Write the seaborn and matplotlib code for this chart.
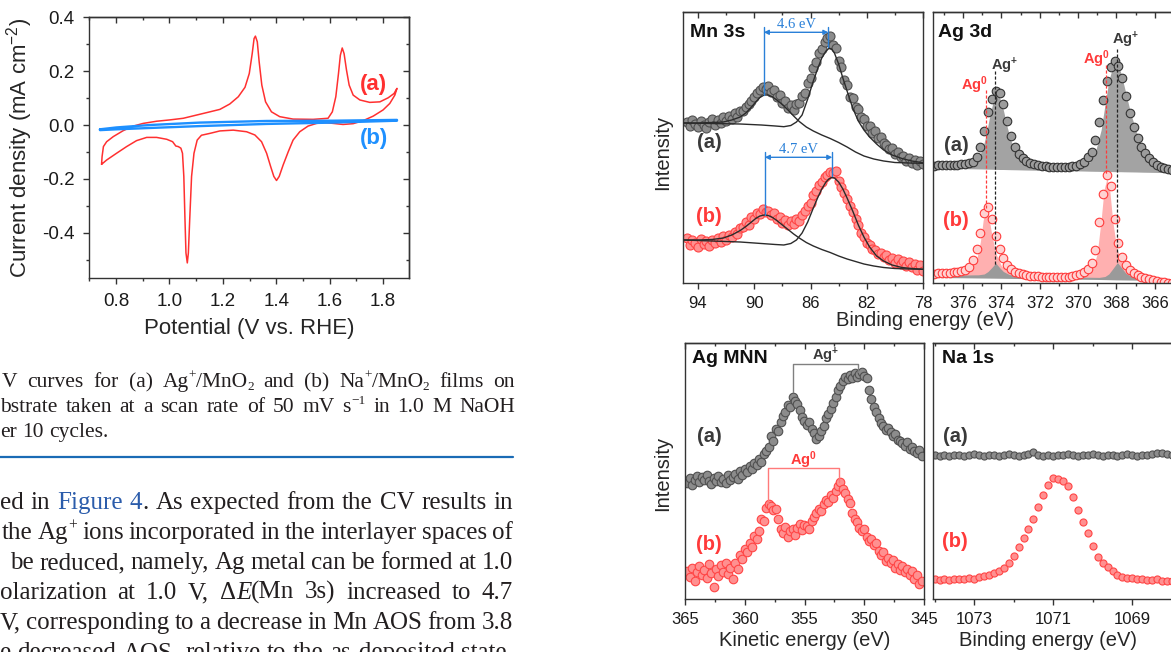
import re

import numpy as np
import matplotlib
matplotlib.use("Agg")
import matplotlib.pyplot as plt
import seaborn as sns
from matplotlib.lines import Line2D
from matplotlib.ticker import MultipleLocator, FormatStrFormatter

# ---------------- values ----------------
# CV loops: potential (V vs RHE), current density (mA cm-2)
cv_a_v = [0.746, 0.748, 0.753, 0.765, 0.790, 0.827, 0.865, 0.902, 0.952, 1.002,
          1.052, 1.102, 1.152, 1.189, 1.226, 1.258, 1.283, 1.299, 1.310, 1.317,
          1.322, 1.329, 1.336, 1.346, 1.360, 1.382, 1.413, 1.463, 1.538, 1.594,
          1.610, 1.623, 1.633, 1.640, 1.647, 1.654, 1.663, 1.673, 1.688, 1.713,
          1.750, 1.788, 1.819, 1.841, 1.852,
          1.844, 1.825, 1.800, 1.763, 1.725, 1.688, 1.650, 1.613, 1.582, 1.551,
          1.519, 1.488, 1.463, 1.445, 1.426, 1.411, 1.401, 1.391, 1.379, 1.364,
          1.345, 1.320, 1.289, 1.239, 1.189, 1.152, 1.120, 1.104, 1.092, 1.083,
          1.076, 1.071, 1.067, 1.062, 1.058, 1.054, 1.049, 1.043, 1.033, 1.024,
          1.012, 0.990, 0.952, 0.915, 0.877, 0.840, 0.802, 0.765, 0.746]
cv_a_j = [-0.146, -0.117, -0.080, -0.062, -0.043, -0.021, -0.004, 0.006, 0.014, 0.019,
          0.025, 0.037, 0.049, 0.058, 0.078, 0.105, 0.140, 0.191, 0.265, 0.321,
          0.330, 0.309, 0.235, 0.148, 0.086, 0.049, 0.031, 0.022, 0.021, 0.025,
          0.049, 0.105, 0.191, 0.259, 0.286, 0.265, 0.204, 0.148, 0.111, 0.093,
          0.084, 0.086, 0.101, 0.117, 0.136,
          0.111, 0.080, 0.056, 0.033, 0.016, 0.005, 0.002, 0.006, 0.009, 0.006,
          -0.004, -0.025, -0.056, -0.099, -0.148, -0.191, -0.206, -0.191, -0.154, -0.105,
          -0.062, -0.037, -0.025, -0.019, -0.022, -0.031, -0.038, -0.056, -0.105, -0.191,
          -0.352, -0.475, -0.512, -0.475, -0.340, -0.191, -0.105, -0.086, -0.080, -0.078,
          -0.062, -0.053, -0.046, -0.046, -0.058, -0.080, -0.105, -0.130, -0.146]
cv_b_v = [0.740, 0.802, 0.927, 1.114, 1.364, 1.613, 1.852,
          1.852, 1.613, 1.364, 1.114, 0.927, 0.802, 0.740, 0.740]
cv_b_j = [-0.016, -0.009, 0.000, 0.009, 0.015, 0.016, 0.019,
          0.016, 0.009, 0.004, -0.004, -0.011, -0.016, -0.019, -0.016]

# XPS / Auger spectra, intensity in arbitrary units
mn_be = np.arange(94.8, 77.9, -0.2)
mn_a = [161, 157, 163, 159, 156, 162, 158, 155, 161, 164,
        158, 163, 160, 166, 162, 167, 164, 170, 166, 172,
        172, 176, 179, 182, 186, 190, 193, 196, 194, 197,
        191, 193, 186, 188, 180, 182, 175, 178, 173, 179,
        180, 187, 190, 200, 205, 215, 221, 230, 234, 241,
        245, 247, 238, 235, 222, 216, 203, 198, 186, 185,
        176, 174, 166, 164, 157, 157, 150, 152, 145, 146,
        140, 138, 134, 135, 129, 131, 126, 127, 122, 125,
        120, 123, 118, 122, 119]
mn_b = [45, 38, 43, 40, 36, 44, 39, 42, 37, 43,
        40, 45, 41, 47, 43, 48, 46, 51, 49, 55,
        56, 61, 58, 66, 64, 70, 69, 74, 71, 72,
        68, 70, 64, 66, 60, 63, 58, 62, 59, 64,
        62, 68, 72, 77, 80, 88, 92, 98, 101, 106,
        108, 111, 110, 112, 102, 96, 90, 84, 77, 71,
        64, 58, 50, 46, 40, 38, 34, 33, 29, 30,
        26, 28, 23, 25, 20, 24, 19, 22, 17, 21,
        16, 19, 13, 18, 12]
mn_fit1_be = [95.0, 94.0, 93.0, 92.2, 91.6, 91.0, 90.6, 90.2, 89.9, 89.6,
              89.3, 89.0, 88.7, 88.4, 88.0, 87.6, 87.2, 86.8, 86.3, 85.8,
              85.2, 84.6, 84.0, 83.4, 82.8, 82.2, 81.5, 80.8, 80.0, 79.0, 78.0]
mn_fit1_a = [160, 160, 160.5, 161, 163, 166, 170, 176, 181, 185.5,
             188, 188, 186, 183, 178.5, 173, 167, 161.5, 156, 152,
             148, 144.5, 140.5, 136, 131, 127, 124, 122, 120.5, 120, 119.7]
mn_fit1_b = [43, 43, 43.5, 45, 48, 52.5, 56.5, 61, 64.5, 67,
             68, 67.5, 65.5, 62.5, 58, 53.5, 49, 45, 40.5, 37,
             33.5, 30.5, 27, 24, 21.5, 19, 17, 15.5, 14.5, 14, 13.7]
mn_fit2_be = [95.0, 93.0, 91.0, 89.5, 88.5, 87.9, 87.4, 87.0, 86.6, 86.2,
              85.8, 85.5, 85.2, 84.9, 84.7, 84.5, 84.3, 84.0, 83.7, 83.4,
              83.0, 82.6, 82.2, 81.8, 81.3, 80.8, 80.2, 79.5, 78.8, 78.0]
mn_fit2_a = [160, 159.5, 159, 158, 157, 156.3, 157.5, 161, 168, 184,
             202, 214, 225, 232, 234.5, 234, 230, 219, 205, 192,
             175, 162, 153, 146, 139, 133, 128, 124.5, 122, 120.3]
mn_fit2_b = [43, 42, 41, 39.5, 38.5, 38, 39.5, 43, 50, 61,
             75, 85, 94, 101, 104, 105.5, 105, 101, 94, 85,
             72, 58, 46, 36, 27, 22, 18, 15.5, 14.5, 13.7]
mn_split_a = [89.32, 84.73]
mn_split_b = [89.25, 84.45]

ag_be = np.arange(377.5, 365.0, -0.2)
ag_a = [114.5, 115, 114.6, 114.8, 115, 115.2, 115.5, 115.8, 116.2, 116.8,
        118.5, 123, 133, 149, 168, 181.5, 189, 187, 176, 159,
        144, 133, 126.5, 122.5, 119.5, 117.5, 116, 115, 114.3, 113.8,
        113.5, 113.3, 113.2, 113.2, 113.3, 113.5, 113.8, 114.5, 116, 118.5,
        123, 128, 140, 158, 180, 199, 213, 219, 214, 202,
        184, 167.5, 153, 142, 133, 127, 122, 118, 115, 113,
        111.8, 110.8, 110.2]
ag_b = [6.5, 7, 7.2, 7, 7.5, 7.8, 8.4, 9.3, 10.5, 13,
        20, 31, 47, 67, 73.5, 61, 44, 31.5, 22, 15.5,
        11, 8.5, 6.8, 5.8, 5, 4.4, 4, 3.7, 3.5, 3.2,
        3, 2.9, 2.8, 2.8, 3, 3.3, 3.8, 4.6, 5.8, 7.8,
        11.5, 17.5, 30, 58, 86, 105, 94, 61, 37, 23,
        15.5, 10.5, 7.5, 5.2, 3.5, 2, 0.8, 0, -0.8, -1.5,
        -2.2, -2.8, -3.3]
# fitted components (Ag+ grey, Ag0 pink)
agf_a_be = [377.6, 376.0, 375.6, 375.3, 375.0, 374.8, 374.6, 374.4, 374.25, 374.1,
            373.9, 373.7, 373.5, 373.2, 372.8, 372.0, 370.5, 369.8, 369.4, 369.1,
            368.8, 368.6, 368.4, 368.2, 368.0, 367.8, 367.6, 367.3, 367.0, 366.6,
            366.0, 365.0]
agf_a_top = [113.5, 114, 115.5, 119, 130, 145, 165, 181, 186, 183,
             170, 153, 139, 126, 118, 114, 112.5, 114, 118, 128,
             150, 175, 199, 213, 216, 209, 194, 170, 150, 131,
             117, 110]
agf_a_bot = [112, 111.4, 111.2, 111.1, 111, 110.9, 110.8, 110.7, 110.6, 110.5,
             110.5, 110.4, 110.3, 110.2, 110, 109.7, 109.2, 109, 108.8, 108.7,
             108.6, 108.5, 108.5, 108.4, 108.3, 108.3, 108.2, 108.1, 108, 107.8,
             107.6, 107.2]
agf_b0_be = [377.6, 376.0, 375.6, 375.3, 375.1, 374.95, 374.8, 374.65, 374.5, 374.3,
             374.0, 373.6, 373.0, 371.5, 370.0, 369.5, 369.2, 369.0, 368.8, 368.65,
             368.5, 368.35, 368.2, 368.0, 367.7, 367.3, 366.8, 366.0, 365.0]
agf_b0_top = [6, 7.5, 11, 20, 38, 60, 70.5, 62, 45, 27,
              14, 8.5, 6, 4, 4, 6.5, 13, 27, 60, 90,
              101.5, 90, 60, 33, 16, 8.5, 4.5, 2.5, 1]
agf_b0_bot = [5, 4.4, 4.3, 4.2, 4.1, 4.05, 4, 3.95, 3.9, 3.8,
              3.7, 3.6, 3.4, 2.9, 2.4, 2.2, 2.1, 2.0, 1.95, 1.9,
              1.85, 1.8, 1.75, 1.7, 1.6, 1.4, 1.25, 1.0, 0.6]
agf_b1_be = [377.6, 376.0, 375.2, 374.9, 374.7, 374.5, 374.3, 374.1, 373.9, 373.6,
             373.2, 371.0, 368.9, 368.6, 368.4, 368.2, 367.95, 367.7, 367.5, 367.2,
             366.8, 366.0, 365.0]
agf_b1_top = [5.5, 5, 5.2, 6, 8.5, 12.5, 17, 12.5, 8.5, 5.5,
              4.3, 3.2, 2.6, 3.5, 6, 11, 17.5, 11.5, 6.5, 3.5,
              2, 1.5, 1]
agf_b1_bot = [2.5, 2.2, 2.0, 1.95, 1.9, 1.85, 1.8, 1.75, 1.7, 1.6,
              1.5, 1.0, 0.5, 0.4, 0.3, 0.2, 0.1, 0.05, 0, -0.1,
              -0.2, -0.5, -1]
ag_guides = [(374.31, 209, 15.5, "#222222"), (374.82, 190, 72.5, "#ff3a3a"),
             (367.98, 231, 17.3, "#222222"), (368.52, 215, 105.3, "#ff3a3a")]
ag_labels = [(373.83, 214, "+"), (375.43, 195, "0"), (367.5, 240, "+"), (369.05, 221, "0")]

mnn_ke = np.arange(364.8, 345.1, -0.2)
mnn_a = [116, 121, 114, 119, 123, 117, 122, 119, 124, 118,
         115, 121, 118, 123, 117, 120, 116, 124, 119, 122,
         125, 120, 128, 124, 130, 127, 133, 130, 136, 134,
         140, 137, 145, 148, 152, 163, 158, 170, 168, 177,
         183, 188, 195, 193, 203, 199, 196, 190, 182, 178,
         174, 177, 170, 166, 160, 163, 168, 173, 181, 186,
         191, 197, 203, 210, 214, 219, 223, 221, 225, 222,
         227, 223, 226, 228, 224, 222, 210, 201, 193, 188,
         181, 176, 173, 169, 171, 167, 163, 165, 159, 158,
         156, 153, 157, 150, 152, 148, 146, 149, 143]
mnn_b = [28, 22, 31, 18, 27, 33, 24, 29, 21, 35,
         26, 12, 30, 23, 34, 27, 36, 25, 31, 20,
         36, 30, 44, 40, 50, 47, 56, 52, 63, 60,
         68, 80, 78, 91, 95, 93, 89, 90, 80, 70,
         66, 72, 62, 68, 70, 64, 71, 75, 69, 74,
         73, 70, 78, 82, 86, 90, 88, 95, 99, 97,
         104, 101, 108, 113, 117, 110, 106, 100, 96, 86,
         80, 77, 71, 68, 70, 62, 58, 60, 54, 56,
         48, 44, 47, 38, 41, 36, 39, 31, 35, 29,
         33, 27, 30, 24, 28, 20, 24, 15, 18]
mnn_bracket_a = ([355.95, 355.95, 350.52, 350.52], [207.7, 235.3, 235.3, 227.7])
mnn_bracket_b = ([358.04, 358.04, 352.1, 352.1], [96, 131, 131, 117.7])

na_be = np.arange(1074.0, 1067.9, -0.125)
na_a = [144, 143.5, 144.5, 143, 144, 144.5, 143.5, 144, 145, 144,
        143.5, 144.5, 144, 143, 144.5, 145, 144, 143.5, 144, 145.5,
        147, 144.5, 143.5, 144, 143, 144, 144.5, 145, 144, 143.5,
        144.5, 144, 145, 144, 143.5, 144.5, 144, 143, 144, 145,
        144, 143.5, 144.5, 144, 145, 146, 146.5, 145, 144]
na_b = [20, 19.5, 20.5, 19, 20, 20.5, 20, 21, 20.5, 22,
        23.5, 24.5, 26, 28, 31.5, 36.5, 43, 52, 61, 70,
        80, 92, 104, 114.5, 121, 120, 118.5, 113, 102, 89,
        77, 66, 53, 42, 36, 32, 28, 24, 22.5, 21.5,
        21, 20.5, 20, 19.5, 19, 20.5, 18.5, 18, 18]

# page text around the figures
caption = [("V curves for (a) Ag[^+]/MnO[_2] and (b) Na[^+]/MnO[_2] films on", 387, 2, True),
           ("bstrate taken at a scan rate of 50 mV s[^\u22121] in 1.0 M NaOH", 412, 0, True),
           ("er 10 cycles.", 437, 0, False)]
body = [("ed in [#Figure] [#4]. As expected from the CV results in", 509, 0, True),
        ("the Ag[^+] ions incorporated in the interlayer spaces of", 539, 2, True),
        ("be reduced, namely, Ag metal can be formed at 1.0", 569, 10, True),
        ("olarization at 1.0 V, \u0394[*E](Mn 3s) increased to 4.7", 599, 0, True),
        ("V, corresponding to a decrease in Mn AOS from 3.8", 629, 0, True),
        ("e decreased AOS, relative to the as-deposited state,", 659, 0, True)]

# ---------------- style ----------------
W, H = 1171, 652
EDGE = "#333333"
DARK = "#3a3a3a"
RED = "#ff3a3a"
NOTE = "#2a80d8"
INK = "#231f20"
SANS = ["Liberation Sans", "DejaVu Sans"]
SERIF = ["Liberation Serif", "DejaVu Serif"]

sns.set_theme(style="ticks")
plt.rcParams["font.family"] = SANS
plt.rcParams.update({
    "mathtext.fontset": "custom",
    "mathtext.rm": "Liberation Sans",
    "mathtext.bf": "Liberation Sans:bold",
    "mathtext.it": "Liberation Sans:italic",
    "axes.unicode_minus": False,
    "axes.edgecolor": EDGE,
    "axes.linewidth": 1.0,
    "xtick.color": EDGE,
    "ytick.color": EDGE,
    "xtick.labelcolor": "#1a1a1a",
    "ytick.labelcolor": "#1a1a1a",
})

fig = plt.figure(figsize=(W / 100, H / 100), dpi=100)
fig.patch.set_facecolor("white")


def box(l, t, r, b):
    return fig.add_axes([l / W, 1 - b / H, (r - l) / W, (b - t) / H])


def ticks(ax, xmaj, xmin, xoff=0.0, ymaj=None, ymin=None, size=12, pad=5):
    ax.xaxis.set_major_locator(MultipleLocator(xmaj, offset=xoff))
    ax.xaxis.set_minor_locator(MultipleLocator(xmin))
    ax.tick_params(which="both", direction="out", labelsize=size, pad=pad, width=1.0)
    ax.tick_params(which="major", length=4.5)
    ax.tick_params(which="minor", length=2.5)
    top = ax.secondary_xaxis("top")
    top.xaxis.set_major_locator(MultipleLocator(xmaj, offset=xoff))
    top.xaxis.set_minor_locator(MultipleLocator(xmin))
    top.tick_params(which="both", direction="in", labeltop=False, width=1.0)
    top.tick_params(which="major", length=4.5)
    top.tick_params(which="minor", length=2.5)
    if ymaj is None:
        ax.set_yticks([])
        return
    ax.yaxis.set_major_locator(MultipleLocator(ymaj))
    ax.yaxis.set_minor_locator(MultipleLocator(ymin))
    right = ax.secondary_yaxis("right")
    right.yaxis.set_major_locator(MultipleLocator(ymaj))
    right.yaxis.set_minor_locator(MultipleLocator(ymin))
    right.tick_params(which="both", direction="in", labelright=False, width=1.0)
    right.tick_params(which="major", length=4.5)
    right.tick_params(which="minor", length=2.5)


def tag(ax, x, y, s, color, size=14.5, ha="center"):
    ax.text(x, y, s, transform=ax.transAxes, color=color, fontsize=size,
            fontweight="bold", ha=ha, va="center")


def dots(ax, x, y, fc, ec, s):
    sns.scatterplot(x=x, y=y, ax=ax, s=s, color=fc, edgecolor=ec, linewidth=0.8,
                    legend=False, zorder=2)


def line(ax, x, y, color, lw=1.0, **kw):
    sns.lineplot(x=x, y=y, ax=ax, sort=False, estimator=None, color=color, lw=lw, **kw)


# ---------------- CV ----------------
cv = box(89, 17, 409, 278)
line(cv, cv_a_v, cv_a_j, "#ff3030", 1.1)
line(cv, cv_b_v, cv_b_j, "#1e90ff", 1.7)
cv.set_xlim(0.699, 1.897)
cv.set_ylim(-0.568, 0.401)
ticks(cv, 0.2, 0.1, ymaj=0.2, ymin=0.1, size=13.5, pad=6)
cv.xaxis.set_major_formatter(FormatStrFormatter("%.1f"))
cv.yaxis.set_major_formatter(FormatStrFormatter("%.1f"))
cv.set_xlabel("Potential (V vs. RHE)", fontsize=16)
cv.xaxis.set_label_coords(0.5, -0.155)
cv.set_ylabel("Current density (mA cm$^{-2}$)", fontsize=16)
cv.yaxis.set_label_coords(-0.17, 0.5)
tag(cv, 0.89, 0.743, "(a)", "#ff3030", 16)
tag(cv, 0.89, 0.533, "(b)", "#1e90ff", 16)

# ---------------- Mn 3s ----------------
mn = box(683, 12, 923, 283)
dots(mn, mn_be, mn_a, "#8c8c8c", "#505050", 42)
dots(mn, mn_be, mn_b, "#ff9090", "#ff4545", 42)
for fy in (mn_fit1_a, mn_fit1_b):
    line(mn, mn_fit1_be, fy, "#2b2b2b", 1.0, zorder=3)
for fy in (mn_fit2_a, mn_fit2_b):
    line(mn, mn_fit2_be, fy, "#2b2b2b", 1.0, zorder=3)
for (x1, x2), y_arrow, lows, label in [(mn_split_a, 250.7, (188, 236), "4.6 eV"),
                                      (mn_split_b, 125.7, (68, 107), "4.7 eV")]:
    mn.plot([x1, x1], [y_arrow + 5.6, lows[0]], color=NOTE, lw=1.0, zorder=4)
    mn.plot([x2, x2], [y_arrow + 5.6, lows[1]], color=NOTE, lw=1.0, zorder=4)
    mn.annotate("", xy=(x2, y_arrow), xytext=(x1, y_arrow),
                arrowprops=dict(arrowstyle="<|-|>", color=NOTE, lw=1.0,
                                shrinkA=0, shrinkB=0, mutation_scale=7), zorder=4)
    mn.text((x1 + x2) / 2, y_arrow + 1.5, label, ha="center", va="bottom",
            family=SERIF, color=NOTE, fontsize=10.5)
mn.set_xlim(95.07, 78.0)
mn.set_ylim(0, 271)
ticks(mn, 4, 2, xoff=2)
mn.set_ylabel("Intensity", fontsize=14.5)
mn.yaxis.set_label_coords(-0.046, 0.48)
tag(mn, 0.029, 0.926, "Mn 3s", "#111111", 14, ha="left")
tag(mn, 0.108, 0.52, "(a)", DARK)
tag(mn, 0.108, 0.244, "(b)", RED)

# ---------------- Ag 3d ----------------
ag = box(933, 12, 1173, 283)
ag.fill_between(agf_a_be, agf_a_bot, agf_a_top, color="#a3a3a3", lw=0, zorder=1)
ag.fill_between(agf_b0_be, agf_b0_bot, agf_b0_top, color="#ffb0b0", lw=0, zorder=1)
ag.fill_between(agf_b1_be, agf_b1_bot, agf_b1_top, color="#9a9a9a", lw=0, zorder=1.1)
dots(ag, ag_be, ag_a, "#9c9c9c", "#333333", 38)
dots(ag, ag_be, ag_b, "#ffd2d2", "#ff3b3b", 38)
for x, y0, y1, c in ag_guides:
    ag.plot([x, x], [y0, y1], color=c, lw=0.9, ls=(0, (2.5, 1.5)), zorder=3)
for x, y, sign in ag_labels:
    ag.text(x, y, r"Ag$^{\mathbf{%s}}$" % sign, ha="center", va="center", fontsize=10.5,
            fontweight="bold", color=DARK if sign == "+" else RED, zorder=4)
ag.set_xlim(377.57, 365.05)
ag.set_ylim(-3, 268)
ticks(ag, 2, 1)
tag(ag, 0.021, 0.926, "Ag 3d", "#111111", 14, ha="left")
tag(ag, 0.096, 0.509, "(a)", DARK)
tag(ag, 0.096, 0.232, "(b)", RED)

fig.text(925 / W, 1 - 320 / H, "Binding energy (eV)", ha="center", va="center", fontsize=14.5)

# ---------------- Ag MNN ----------------
mnn = box(685, 343, 924, 599)
dots(mnn, mnn_ke, mnn_a, "#8c8c8c", "#505050", 38)
dots(mnn, mnn_ke, mnn_b, "#ff9090", "#ff4545", 38)
mnn.plot(*mnn_bracket_a, color="#808080", lw=1.0, zorder=3)
mnn.plot(*mnn_bracket_b, color="#ff7a7a", lw=1.0, zorder=3)
mnn.text(353.2, 244.3, r"Ag$^{\mathbf{+}}$", ha="center", va="center", fontsize=10.5,
         fontweight="bold", color=DARK)
mnn.text(355.1, 139.3, r"Ag$^{\mathbf{0}}$", ha="center", va="center", fontsize=10.5,
         fontweight="bold", color=RED)
mnn.set_xlim(365, 345)
mnn.set_ylim(0, 256.7)
ticks(mnn, 5, 2.5)
mnn.set_ylabel("Intensity", fontsize=14.5)
mnn.yaxis.set_label_coords(-0.054, 0.49)
mnn.set_xlabel("Kinetic energy (eV)", fontsize=14.5, labelpad=3)
tag(mnn, 0.029, 0.941, "Ag MNN", "#111111", 14, ha="left")
tag(mnn, 0.1, 0.633, "(a)", DARK)
tag(mnn, 0.1, 0.211, "(b)", RED)

# ---------------- Na 1s ----------------
na = box(933, 343, 1173, 599)
dots(na, na_be, na_a, "#8c8c8c", "#505050", 26)
dots(na, na_be, na_b, "#ff9090", "#ff4545", 26)
na.set_xlim(1074.04, 1067.97)
na.set_ylim(0, 256.7)
ticks(na, 2, 1, xoff=1)
fig.text(1048 / W, 1 - 641 / H, "Binding energy (eV)", ha="center", va="center", fontsize=14.5)
tag(na, 0.0375, 0.941, "Na 1s", "#111111", 14, ha="left")
tag(na, 0.092, 0.633, "(a)", DARK)
tag(na, 0.092, 0.223, "(b)", RED)

# ---------------- page text ----------------
TOKEN = re.compile(r"\[([\^_*#])([^\]]*)\]")
renderer = fig.canvas.get_renderer()


def segments(word):
    out, pos = [], 0
    for m in TOKEN.finditer(word):
        if m.start() > pos:
            out.append((word[pos:m.start()], ""))
        out.append((m.group(2), m.group(1)))
        pos = m.end()
    if pos < len(word):
        out.append((word[pos:], ""))
    return out


def text_line(text, y, x0, x1, size, justify):
    px = size * 100 / 72
    words = []
    for w in text.split(" "):
        parts = []
        for s, kind in segments(w):
            small = kind in ("^", "_")
            t = fig.text(0, 0, s, fontsize=size * (0.62 if small else 1.0), family=SERIF,
                         color="#2b5cab" if kind == "#" else INK,
                         style="italic" if kind == "*" else "normal", va="baseline")
            rise = {"^": 0.38, "_": -0.16}.get(kind, 0.0) * px
            parts.append((t, rise, t.get_window_extent(renderer).width))
        words.append(parts)
    total = sum(p[2] for w in words for p in w)
    gap = (x1 - x0 - total) / (len(words) - 1) if justify else 0.25 * px
    gap = max(gap, 0.15 * px)
    x = x0
    for w in words:
        for t, rise, wd in w:
            t.set_position((x / W, 1 - (y - rise) / H))
            x += wd
        x += gap


for txt, y, x0, just in caption:
    text_line(txt, y, x0, 515, 15.5, just)
fig.add_artist(Line2D([0, 513 / W], [1 - 457 / H] * 2, color="#1a6bb5", lw=1.6))
for txt, y, x0, just in body:
    text_line(txt, y, x0, 513, 18, just)

fig.savefig("out.png", dpi=100)
